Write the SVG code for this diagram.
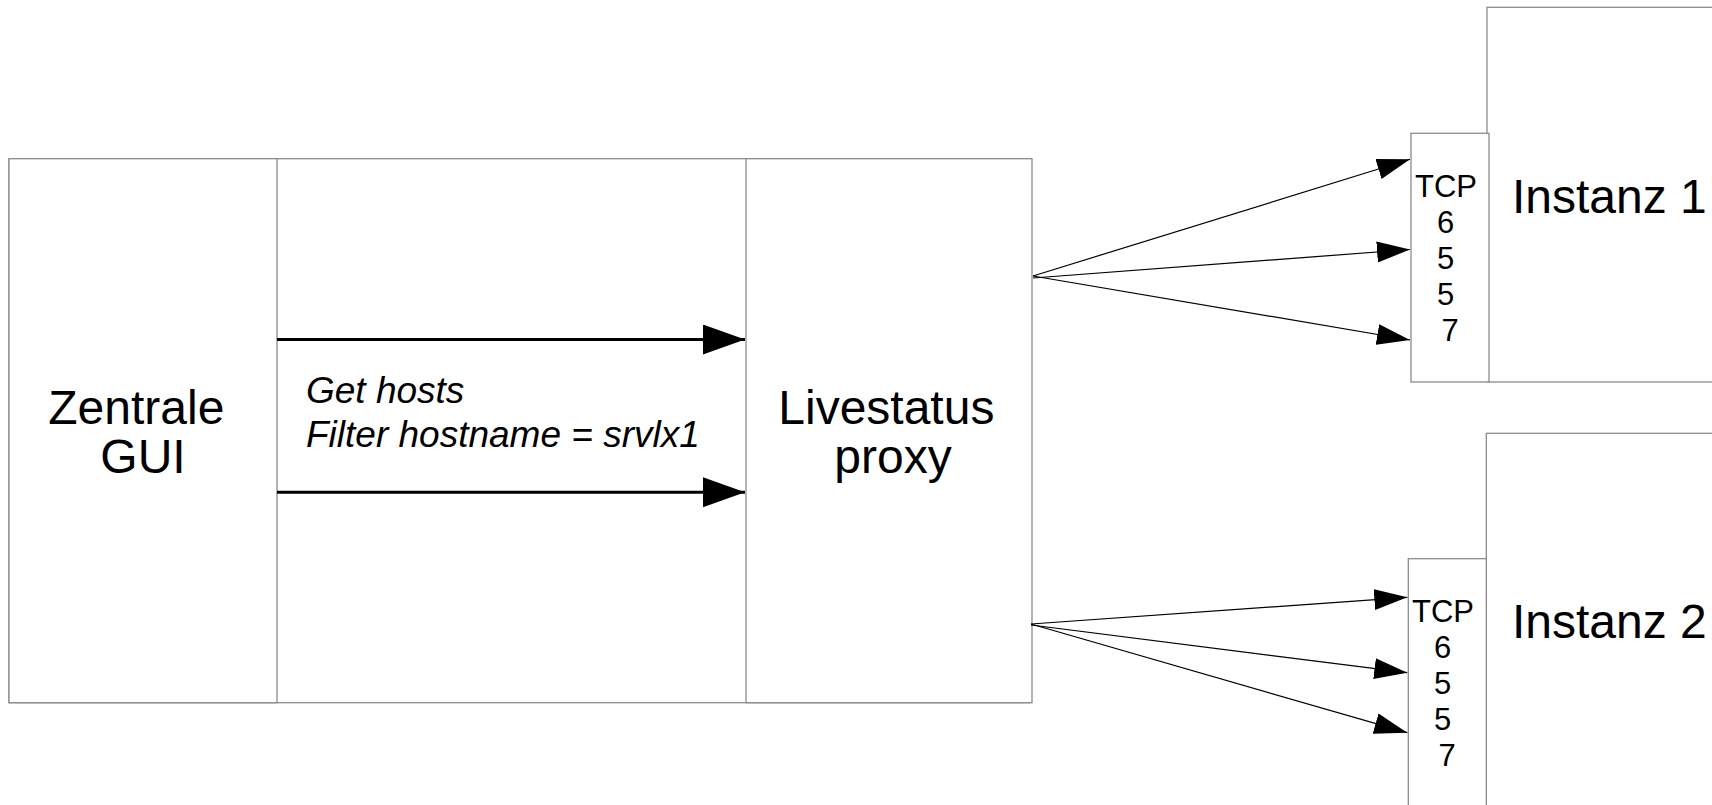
<svg xmlns="http://www.w3.org/2000/svg" width="1712" height="805" viewBox="0 0 1712 805">
  <style>
    .box { fill: #ffffff; stroke: #8c8c8c; stroke-width: 1.3; }
    .label { font-family: "Liberation Sans", Arial, sans-serif; fill: #000000; }
    .big { font-size: 48px; }
    .port { font-size: 31px; text-anchor: middle; }
    .query { font-size: 37px; font-style: italic; }
    .thin { stroke: #000000; stroke-width: 1.2; fill: none; marker-end: url(#headThin); }
    .thick { stroke: #000000; stroke-width: 3; fill: none; marker-end: url(#headThick); }
  </style>
  <defs>
    <marker id="headThin" markerUnits="userSpaceOnUse" markerWidth="34" markerHeight="22" refX="33" refY="10.5" orient="auto">
      <path d="M0,0 L33,10.5 L0,21 z" fill="#000000"/>
    </marker>
    <marker id="headThick" markerUnits="userSpaceOnUse" markerWidth="43" markerHeight="31" refX="42" refY="15" orient="auto">
      <path d="M0,0 L42,15 L0,30 z" fill="#000000"/>
    </marker>
  </defs>

  <rect width="1712" height="805" fill="#ffffff"/>

  <!-- central frame holding GUI, query area and proxy -->
  <g id="frame">
    <rect class="box" x="9" y="158.7" width="1021" height="544"/>
  </g>

  <g id="gui">
    <rect class="box" x="9" y="158.7" width="268" height="544"/>
    <text class="label big" text-anchor="middle">
      <tspan x="143" y="424">Zentrale</tspan>
      <tspan x="143" y="473">GUI</tspan>
    </text>
  </g>

  <g id="proxy">
    <rect class="box" x="746" y="158.7" width="286" height="544"/>
    <text class="label big" text-anchor="middle">
      <tspan x="893" y="424">Livestatus</tspan>
      <tspan x="893" y="473">proxy</tspan>
    </text>
  </g>

  <g id="instance1">
    <rect class="box" x="1487" y="7.3" width="240" height="374.7"/>
    <text class="label big" x="1512" y="213">Instanz 1</text>
  </g>

  <g id="port1">
    <rect class="box" x="1411" y="133.3" width="78" height="248.7"/>
    <text class="label port">
      <tspan x="1450" y="197">TCP</tspan>
      <tspan x="1450" y="233">6</tspan>
      <tspan x="1450" y="269">5</tspan>
      <tspan x="1450" y="305">5</tspan>
      <tspan x="1450" y="341">7</tspan>
    </text>
  </g>

  <g id="instance2">
    <rect class="box" x="1486.3" y="433.3" width="240" height="400"/>
    <text class="label big" x="1512" y="638">Instanz 2</text>
  </g>

  <g id="port2">
    <rect class="box" x="1408.3" y="558.7" width="78" height="280"/>
    <text class="label port">
      <tspan x="1447" y="622">TCP</tspan>
      <tspan x="1447" y="658">6</tspan>
      <tspan x="1447" y="694">5</tspan>
      <tspan x="1447" y="730">5</tspan>
      <tspan x="1447" y="766">7</tspan>
    </text>
  </g>

  <g id="query">
    <text class="label query">
      <tspan x="306" y="403">Get hosts</tspan>
      <tspan x="306" y="447">Filter hostname = srvlx1</tspan>
    </text>
  </g>

  <g id="connectors">
    <line class="thick" x1="277" y1="339.5" x2="745" y2="339.5"/>
    <line class="thick" x1="277" y1="492.3" x2="745" y2="492.3"/>

    <line class="thin" x1="1033" y1="276" x2="1410" y2="159.3"/>
    <line class="thin" x1="1033" y1="278" x2="1410" y2="249.5"/>
    <line class="thin" x1="1033" y1="276" x2="1410" y2="340"/>

    <line class="thin" x1="1031" y1="624" x2="1407.3" y2="597.3"/>
    <line class="thin" x1="1031" y1="625" x2="1407.3" y2="672.7"/>
    <line class="thin" x1="1031" y1="624" x2="1407.3" y2="732.7"/>
  </g>
</svg>
